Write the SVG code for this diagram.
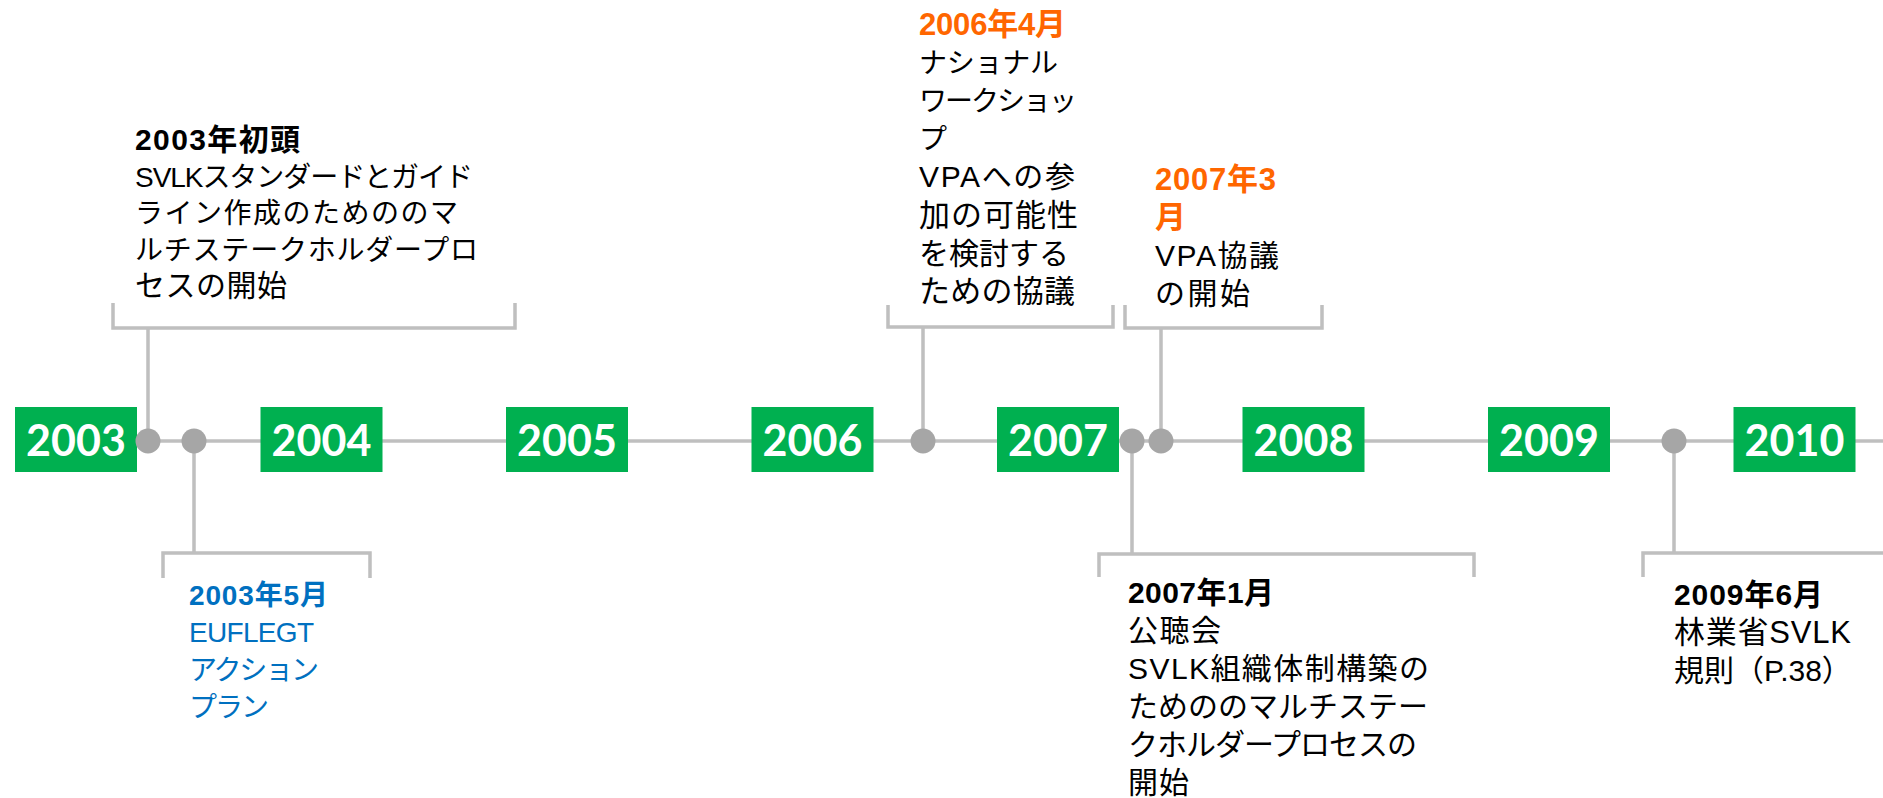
<svg xmlns="http://www.w3.org/2000/svg" width="1883" height="798" viewBox="0 0 1883 798">
<style>
.yr{fill:#00B050}
.yt{font-family:Lato,"Open Sans","Liberation Sans",sans-serif;font-weight:700;font-size:43px;fill:#fff;text-anchor:middle}
.ln{stroke:#BFBFBF;stroke-width:3.5;fill:none}
.dot{fill:#A6A6A6}
.t{font-family:"Liberation Sans","Noto Sans CJK JP",sans-serif;font-size:28px;fill:#000}
.s29{font-size:29px}
.s30{font-size:30px}
.s31{font-size:31px}
.b{font-weight:700}
.or{fill:#FF6600}
.bl{fill:#0070C0}
</style>
<rect width="1883" height="798" fill="#fff"/>
<g id="connectors">
<line class="ln" x1="137" y1="441" x2="1883" y2="441"/>
<path class="ln" d="M113,303 V328 H515 V303 M148,328 V441"/>
<path class="ln" d="M163,578 V553 H370 V578 M194,553 V441"/>
<path class="ln" d="M888,305 V327 H1113 V305 M923,327 V441"/>
<path class="ln" d="M1125,305 V328 H1322 V305 M1161,328 V441"/>
<path class="ln" d="M1099,577 V554 H1474 V577 M1132,554 V441"/>
<path class="ln" d="M1643,577 V553 H1890 M1674,553 V441"/>
</g>
<g id="y2003"><rect class="yr" x="15" y="407" width="122" height="65"/><text class="yt" x="76" y="456">2003</text></g>
<g id="y2004"><rect class="yr" x="260.5" y="407" width="122" height="65"/><text class="yt" x="321.5" y="456">2004</text></g>
<g id="y2005"><rect class="yr" x="506" y="407" width="122" height="65"/><text class="yt" x="567" y="456">2005</text></g>
<g id="y2006"><rect class="yr" x="751.5" y="407" width="122" height="65"/><text class="yt" x="812.5" y="456">2006</text></g>
<g id="y2007"><rect class="yr" x="997" y="407" width="122" height="65"/><text class="yt" x="1058" y="456">2007</text></g>
<g id="y2008"><rect class="yr" x="1242.5" y="407" width="122" height="65"/><text class="yt" x="1303.5" y="456">2008</text></g>
<g id="y2009"><rect class="yr" x="1488" y="407" width="122" height="65"/><text class="yt" x="1549" y="456">2009</text></g>
<g id="y2010"><rect class="yr" x="1733.5" y="407" width="122" height="65"/><text class="yt" x="1794.5" y="456">2010</text></g>
<g id="dots">
<circle class="dot" cx="148" cy="441" r="12.5"/>
<circle class="dot" cx="194" cy="441" r="12.5"/>
<circle class="dot" cx="923" cy="441" r="12.5"/>
<circle class="dot" cx="1132" cy="441" r="12.5"/>
<circle class="dot" cx="1161" cy="441" r="12.5"/>
<circle class="dot" cx="1674" cy="441" r="12.5"/>
</g>
<g id="e2003early">
<text class="t s30 b" x="135" y="150" textLength="165">2003年初頭</text>
<text class="t" x="135" y="187" textLength="338">SVLKスタンダードとガイド</text>
<text class="t" x="135" y="223" textLength="323">ライン作成のためののマ</text>
<text class="t" x="135" y="260" textLength="343">ルチステークホルダープロ</text>
<text class="t s30" x="135" y="296" textLength="152">セスの開始</text>
</g>
<g id="e2003may">
<text class="t b bl" x="189" y="605" textLength="139">2003年5月</text>
<text class="t bl" x="189" y="642" textLength="125">EUFLEGT</text>
<text class="t bl" x="189" y="680" textLength="130">アクション</text>
<text class="t bl" x="189" y="717" textLength="80">プラン</text>
</g>
<g id="e2006apr">
<text class="t s31 b or" x="919" y="35" textLength="147">2006年4月</text>
<text class="t" x="919" y="73" textLength="139">ナショナル</text>
<text class="t" x="919" y="111" textLength="158">ワークショッ</text>
<text class="t" x="919" y="149">プ</text>
<text class="t s30" x="919" y="187" textLength="156">VPAへの参</text>
<text class="t s31" x="919" y="226" textLength="159">加の可能性</text>
<text class="t s30" x="919" y="264" textLength="150">を検討する</text>
<text class="t s31" x="919" y="302" textLength="156">ための協議</text>
</g>
<g id="e2007mar">
<text class="t s31 b or" x="1155" y="190" textLength="121">2007年3</text>
<text class="t s31 b or" x="1155" y="228">月</text>
<text class="t s30" x="1155" y="266" textLength="124">VPA協議</text>
<text class="t s30" x="1155" y="304" textLength="95">の開始</text>
</g>
<g id="e2007jan">
<text class="t s30 b" x="1128" y="603" textLength="146">2007年1月</text>
<text class="t s30" x="1128" y="641" textLength="93">公聴会</text>
<text class="t s30" x="1128" y="679" textLength="301">SVLK組織体制構築の</text>
<text class="t s30" x="1128" y="717" textLength="300">ためののマルチステー</text>
<text class="t s30" x="1128" y="755" textLength="289">クホルダープロセスの</text>
<text class="t s30" x="1128" y="793" textLength="61">開始</text>
</g>
<g id="e2009jun">
<text class="t s30 b" x="1674" y="605" textLength="149">2009年6月</text>
<text class="t s31" x="1674" y="643" textLength="177">林業省SVLK</text>
<text class="t s30" x="1674" y="681">規則（P.38）</text>
</g>
</svg>
